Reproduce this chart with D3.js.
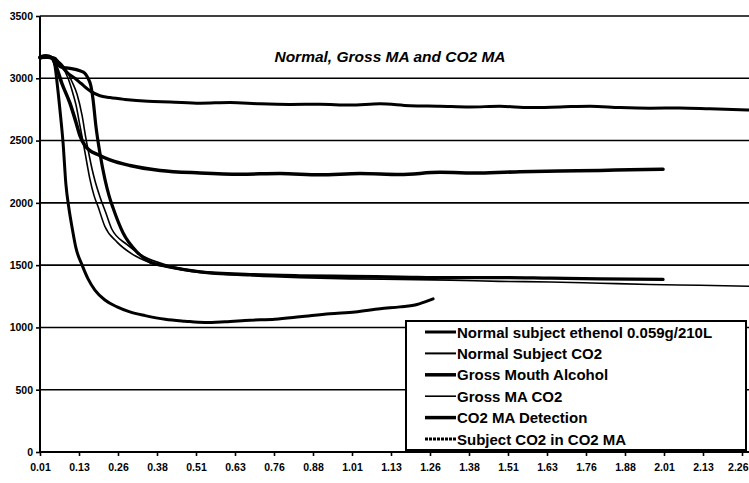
<!DOCTYPE html>
<html>
<head>
<meta charset="utf-8">
<script src="https://cdn.jsdelivr.net/npm/d3@7"></script>
<style>
  html, body { margin: 0; padding: 0; background: #fff; }
  svg { display: block; }
  text { font-family: "Liberation Sans", Arial, sans-serif; font-weight: bold; fill: #000; }
</style>
</head>
<body>
<svg id="chart" width="749" height="483"></svg>
<script>
// ---- Data ----
const chartTitle = "Normal, Gross MA and CO2 MA";
const xTickLabels = ["0.01","0.13","0.26","0.38","0.51","0.63","0.76","0.88","1.01","1.13",
                     "1.26","1.38","1.51","1.63","1.76","1.88","2.01","2.13","2.26"];
const yTicks = [0, 500, 1000, 1500, 2000, 2500, 3000, 3500];
const seriesNames = ["Normal subject ethenol 0.059g/210L", "Normal Subject CO2", "Gross Mouth Alcohol",
                     "Gross MA CO2", "CO2 MA Detection", "Subject CO2 in CO2 MA"];

// [time, signal]
const normalEthanol = [[0.010,3160],[0.026,3175],[0.042,3170],[0.058,3160],[0.077,3100],[0.100,3040],
  [0.122,3000],[0.141,2960],[0.173,2895],[0.202,2860],[0.234,2845],[0.282,2830],[0.356,2815],
  [0.427,2810],[0.523,2800],[0.619,2806],[0.715,2795],[0.811,2790],[0.907,2792],[1.004,2785],
  [1.100,2796],[1.196,2780],[1.292,2776],[1.388,2770],[1.484,2775],[1.580,2765],[1.677,2770],
  [1.773,2776],[1.869,2765],[1.965,2760],[2.061,2762],[2.157,2755],[2.282,2745]];
const normalCO2 = [[0.010,3160],[0.042,3170],[0.061,3150],[0.080,3100],[0.100,3000],[0.113,2900],
  [0.125,2790],[0.138,2620],[0.151,2450],[0.161,2310],[0.170,2190],[0.183,2060],[0.196,1970],
  [0.218,1810],[0.257,1685],[0.308,1585],[0.363,1520],[0.417,1485],[0.523,1440],[0.683,1415],
  [0.843,1400],[1.004,1390],[1.164,1385],[1.324,1380],[1.484,1370],[1.645,1365],[1.805,1355],
  [1.965,1345],[2.125,1338],[2.282,1330]];
const grossMouthAlcohol = [[0.010,3170],[0.029,3175],[0.048,3160],[0.058,3100],[0.064,2980],
  [0.074,2745],[0.084,2480],[0.093,2150],[0.103,1950],[0.113,1800],[0.125,1640],[0.145,1500],
  [0.164,1390],[0.186,1300],[0.218,1220],[0.257,1165],[0.298,1125],[0.347,1095],[0.411,1065],
  [0.475,1050],[0.539,1040],[0.603,1046],[0.683,1058],[0.763,1066],[0.843,1085],[0.939,1110],
  [1.020,1124],[1.100,1150],[1.164,1165],[1.212,1180],[1.244,1205],[1.270,1230]];
const grossMACO2 = [[0.010,3165],[0.042,3160],[0.068,3140],[0.093,3070],[0.113,2970],[0.129,2870],
  [0.145,2700],[0.157,2520],[0.167,2390],[0.177,2270],[0.186,2180],[0.202,2050],[0.221,1920],
  [0.240,1790],[0.289,1665],[0.346,1565],[0.417,1500],[0.523,1450],[0.683,1425],[0.843,1410],
  [1.004,1400],[1.164,1395],[1.270,1390]];
const co2MADetection = [[0.010,3170],[0.029,3180],[0.048,3165],[0.064,3080],[0.080,2960],[0.106,2800],
  [0.125,2650],[0.138,2540],[0.154,2460],[0.170,2420],[0.193,2390],[0.234,2345],[0.298,2300],
  [0.395,2260],[0.523,2240],[0.651,2230],[0.779,2236],[0.907,2225],[1.036,2236],[1.164,2228],
  [1.292,2245],[1.420,2240],[1.548,2250],[1.677,2256],[1.805,2260],[1.901,2266],[2.007,2270]];
const subjectCO2inMA = [[0.010,3165],[0.042,3170],[0.077,3090],[0.106,3080],[0.138,3060],[0.154,3040],
  [0.164,3000],[0.173,2940],[0.180,2830],[0.189,2620],[0.202,2400],[0.218,2190],[0.231,2060],
  [0.244,1960],[0.276,1760],[0.321,1605],[0.363,1525],[0.417,1490],[0.523,1447],[0.683,1425],
  [0.843,1415],[1.004,1410],[1.164,1405],[1.324,1400],[1.484,1400],[1.645,1395],[1.805,1390],
  [2.007,1385]];

const seriesData = [normalEthanol, normalCO2, grossMouthAlcohol, grossMACO2, co2MADetection, subjectCO2inMA];
const seriesWidth = [3, 1.6, 3, 1.6, 3.5, 3.2];
const legendWidth = [3, 2, 3.5, 1.6, 3.5, 3];
const legendDash  = [null, null, null, null, null, "3,1"];

// ---- Drawing ----
const svg = d3.select("#chart");
const W = 749, H = 483;
svg.append("rect").attr("width", W).attr("height", H).attr("fill", "#fff");

const x = d3.scaleLinear().domain([0.01, 2.26]).range([40, 742]);
const xCat = d3.scalePoint().domain(xTickLabels).range([40, 742]);
const y = d3.scaleLinear().domain([0, 3500]).range([452, 16]);

// gridlines
svg.append("g").selectAll("line").data(yTicks.filter(v => v > 0)).join("line")
  .attr("x1", x(0.01)).attr("x2", W)
  .attr("y1", d => y(d)).attr("y2", d => y(d))
  .attr("stroke", "#000").attr("stroke-width", 1.6);

// series
const line = d3.line().x(d => x(d[0])).y(d => y(d[1])).curve(d3.curveMonotoneX);
svg.append("g").selectAll("path").data(seriesData).join("path")
  .attr("d", line)
  .attr("fill", "none")
  .attr("stroke", "#000")
  .attr("stroke-width", (d, i) => seriesWidth[i])
  .attr("stroke-linejoin", "round")
  .attr("stroke-linecap", "round");

// axes
const yAxis = svg.append("g").attr("transform", `translate(${x(0.01)},0)`)
  .call(d3.axisLeft(y).tickValues(yTicks).tickSize(4).tickPadding(3).tickFormat(d3.format("d")));
yAxis.select(".domain").attr("stroke-width", 2).attr("d", `M0,${y(3500)}V${y(0)}`);
yAxis.selectAll(".tick line").attr("stroke-width", 1.6);
yAxis.selectAll("text").style("font-size", "10.5px").style("font-weight", "bold")
  .style("font-family", "'Liberation Sans', Arial, sans-serif");

const xAxis = svg.append("g").attr("transform", `translate(0,${y(0)})`)
  .call(d3.axisBottom(xCat).tickSize(4).tickPadding(8));
xAxis.select(".domain").attr("stroke-width", 2).attr("d", `M40,0H${W}`);
xAxis.selectAll(".tick line").attr("stroke-width", 1.6);
xAxis.selectAll("text").style("font-size", "10.5px").style("font-weight", "bold")
  .style("font-family", "'Liberation Sans', Arial, sans-serif");
// keep the last label inside the picture
xAxis.selectAll(".tick").filter(d => d === xTickLabels[xTickLabels.length - 1])
  .select("text").attr("text-anchor", "end").attr("x", W - 1 - xCat(xTickLabels[xTickLabels.length - 1]));

// title
svg.append("text").attr("x", 390).attr("y", 62).attr("text-anchor", "middle")
  .style("font-size", "15.5px").style("font-style", "italic").text(chartTitle);

// legend
const lg = svg.append("g");
lg.append("rect").attr("x", 406).attr("y", 321).attr("width", 340).attr("height", 129)
  .attr("fill", "#fff").attr("stroke", "#000").attr("stroke-width", 2);
const rowY = d3.scalePoint().domain(seriesNames).range([332, 439]);
const rows = lg.selectAll("g.row").data(seriesNames).join("g").attr("class", "row")
  .attr("transform", d => `translate(0,${rowY(d)})`);
rows.append("line").attr("x1", 425).attr("x2", 456).attr("y1", 0).attr("y2", 0)
  .attr("stroke", "#000")
  .attr("stroke-width", (d, i) => legendWidth[i])
  .attr("stroke-dasharray", (d, i) => legendDash[i]);
rows.append("text").attr("x", 457).attr("y", 5.5).style("font-size", "15px").text(d => d);
</script>
</body>
</html>
